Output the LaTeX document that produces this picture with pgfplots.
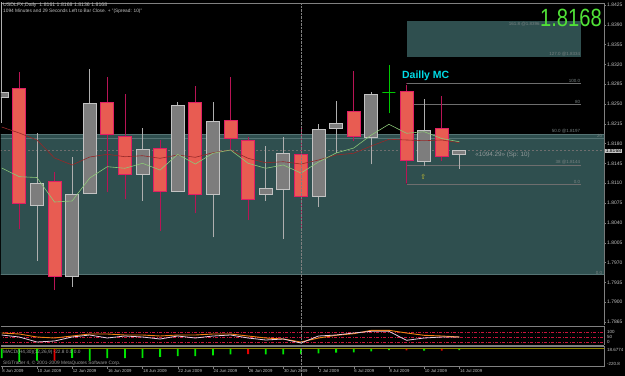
\documentclass[border=0pt]{standalone}
\usepackage{pgfplots}
\pgfplotsset{compat=1.18}
\usepackage{fontspec}
\setmainfont{Liberation Sans}
\newfontfamily\dejavu{DejaVu Sans}

\definecolor{tealz}{RGB}{47,79,79}
\definecolor{tealedge}{RGB}{85,115,115}
\definecolor{redfill}{RGB}{232,92,82}
\definecolor{rededge}{RGB}{225,30,100}
\definecolor{redwick}{RGB}{185,20,85}
\definecolor{greyfill}{RGB}{125,125,125}
\definecolor{greyedge}{RGB}{195,195,195}
\definecolor{greywick}{RGB}{175,175,175}
\definecolor{dojigreen}{RGB}{0,200,0}
\definecolor{maGreen}{RGB}{140,200,120}
\definecolor{maRed}{RGB}{150,40,40}
\definecolor{axisgrey}{RGB}{128,128,128}
\definecolor{txtgrey}{RGB}{195,195,195}
\definecolor{fibgrey}{RGB}{110,110,110}
\definecolor{fibtxt}{RGB}{120,130,130}
\definecolor{limeT}{RGB}{80,225,55}
\definecolor{cyanT}{RGB}{0,220,230}
\definecolor{lvlred}{RGB}{200,20,60}
\definecolor{oscW}{RGB}{235,205,225}
\definecolor{oscO}{RGB}{240,130,20}
\definecolor{macdG}{RGB}{0,230,0}
\definecolor{macdR}{RGB}{230,0,0}
\definecolor{sigOlive}{RGB}{140,130,0}

\pgfplotsset{
  bearwick/.style={draw=redwick, line width=0.8pt},
  bearbody/.style={draw=rededge, fill=redfill, line width=0.8pt},
  bullwick/.style={draw=greywick, line width=0.8pt},
  bullbody/.style={draw=greyedge, fill=greyfill, line width=0.8pt},
  dojiwick/.style={draw=dojigreen, line width=0.8pt},
  dojibody/.style={draw=dojigreen, fill=dojigreen, line width=0.8pt},
  panel/.style={scale only axis, width=603bp, xmin=-0.04, xmax=34.22,
    axis line style={draw=axisgrey, line width=0.6pt}, clip=true},
}
% candle: x position, low, body low, body high, high, kind (prices in pips above 1.7800)
\newcommand\candle[6]{%
  \addplot[#6wick] coordinates {(#1,#2) (#1,#5)};
  \pgfmathsetmacro\xl{#1-0.37}\pgfmathsetmacro\xr{#1+0.37}%
  \addplot[#6body] coordinates {(\xl,#3) (\xr,#3) (\xr,#4) (\xl,#4)} -- cycle;}

\begin{document}
\begin{tikzpicture}
\path[fill=black, use as bounding box] (0,0) rectangle (625bp,-376bp);

% ---------------- main price panel (y = (price - 1.7800) x 10000) ----------------
\begin{axis}[panel, at={(1bp,-3bp)}, anchor=north west, height=322bp,
  ymin=59.6, ymax=628.5,
  axis x line*=top, axis y line*=right,
  xtick=\empty,
  ytick={65,100,135,170,205,240,275,310,345,380,415,450,485,520,555,590,625},
  yticklabels={1.7865,1.7900,1.7935,1.7970,1.8005,1.8040,1.8075,1.8110,1.8145,1.8180,1.8215,1.8250,1.8285,1.8320,1.8355,1.8390,1.8425},
  tick align=outside, major tick length=2bp,
  tick style={draw=axisgrey, line width=0.4pt},
  yticklabel style={font=\fontsize{5}{6}\selectfont, text=txtgrey, inner sep=1bp},
]
% Fibonacci zones
\addplot[fill=tealz, draw=tealedge, line width=0.6pt] coordinates {(-1,148.4) (40,148.4) (40,397.1) (-1,397.1)} -- cycle;
\addplot[fill=tealz, draw=none] coordinates {(23,533.6) (32.9,533.6) (32.9,596.2) (23,596.2)} -- cycle;
\addplot[draw=tealedge, line width=0.6pt] coordinates {(-1,389.5) (40,389.5)};
% fib levels
\addplot[draw=fibgrey, line width=0.5pt] coordinates {(23,486.7) (32.9,486.7)};
\addplot[draw=fibgrey, line width=0.5pt] coordinates {(23,450.1) (32.9,450.1)};
\addplot[draw=fibgrey, line width=0.5pt] coordinates {(23,342.3) (32.9,342.3)};
\addplot[draw=fibgrey, line width=0.5pt] coordinates {(23,308.7) (32.9,308.7)};
\addplot[draw=redwick!70!black, line width=0.5pt, densely dotted] coordinates {(23,486.7) (23,308.7)};
% current price line
\addplot[draw=fibgrey, line width=0.5pt, dash pattern=on 2bp off 2bp] coordinates {(-1,368) (40,368)};

% candles: x, low, body low, body high, high
\candle{0}{416.5}{462.4}{471.3}{650}{bull}
\candle{1}{228.7}{273.9}{477.8}{506.1}{bear}
\candle{2}{172.7}{271.1}{309.9}{398.3}{bull}
\candle{3}{121.4}{146.1}{313.5}{330.4}{bear}
\candle{4}{127.2}{145.6}{290.5}{355.9}{bull}
\candle{5}{292.3}{292.3}{451.3}{511.4}{bull}
\candle{6}{295.1}{395.8}{453.1}{497.2}{bear}
\candle{7}{281.7}{325.8}{393.0}{467.7}{bear}
\candle{8}{279.2}{326.4}{370.0}{407.1}{bull}
\candle{9}{225.7}{295.8}{371.8}{386.5}{bear}
\candle{10}{295.0}{296.3}{447.8}{454.1}{bull}
\candle{11}{256.9}{290.5}{453.1}{481.9}{bear}
\candle{12}{214.5}{290.5}{419.5}{454.1}{bull}
\candle{13}{368.8}{389.5}{421.8}{497.2}{bear}
\candle{14}{245.1}{282.2}{386.5}{391.2}{bear}
\candle{15}{279.2}{291.0}{300.4}{375.9}{bull}
\candle{16}{212.1}{299.3}{362.2}{391.2}{bull}
\candle{17}{228.7}{286.3}{361.2}{410.0}{bear}
\candle{18}{268.6}{286.3}{405.4}{414.7}{bull}
\candle{19}{364.0}{407.1}{416.0}{455.4}{bull}
\candle{20}{385.2}{392.3}{436.5}{508.4}{bear}
\candle{21}{343.5}{391.2}{467.2}{471.8}{bull}
\candle{22}{433.6}{470.0}{470.0}{519.0}{doji}
\candle{23}{309.9}{351.1}{471.8}{483.6}{bear}
\candle{24}{340.5}{348.1}{402.9}{458.4}{bull}
\candle{25}{349.9}{356.9}{407.1}{464.2}{bear}
\candle{26}{336.0}{361.0}{368.0}{368.0}{bull}

% moving averages
\addplot[draw=maRed, line width=0.6pt] coordinates {(0,409.4) (1,398.8) (2,386.5) (3,354.7) (4,342.3) (5,356.4) (6,361.2) (7,356.9) (8,358.7) (9,354.1) (10,360.0) (11,355.9) (12,364.0) (13,368.8) (14,354.1) (15,346.3) (16,348.1) (17,344.0) (18,351.1) (19,360.0) (20,363.0) (21,375.9) (22,387.7) (23,386.5) (24,385.2) (25,386.5) (26,381.7)};
\addplot[draw=maGreen, line width=0.6pt] coordinates {(0,337.0) (1,321.6) (2,320.2) (3,276.9) (4,278.7) (5,319.3) (6,339.3) (7,336.5) (8,345.3) (9,333.4) (10,361.2) (11,344.0) (12,363.0) (13,368.8) (14,345.3) (15,336.5) (16,342.3) (17,328.1) (18,347.6) (19,363.5) (20,372.3) (21,395.3) (22,414.2) (23,398.3) (24,401.1) (25,389.1) (26,383.4)};

% labels
\node[anchor=south east, inner sep=0.5bp, text=fibtxt, font=\fontsize{4.5}{5}\selectfont] at (axis cs:32.9,486.7) {100.0};
\node[anchor=south east, inner sep=0.5bp, text=fibtxt, font=\fontsize{4.5}{5}\selectfont] at (axis cs:32.9,450.1) {80};
\node[anchor=south east, inner sep=0.5bp, text=fibtxt, font=\fontsize{4.5}{5}\selectfont] at (axis cs:32.9,397.1) {50.0 @1.8197};
\node[anchor=south east, inner sep=0.5bp, text=fibtxt, font=\fontsize{4.5}{5}\selectfont] at (axis cs:32.9,342.3) {38 @1.8144};
\node[anchor=south east, inner sep=0.5bp, text=fibtxt, font=\fontsize{4.5}{5}\selectfont] at (axis cs:32.9,308.7) {0.0};
\node[anchor=south east, inner sep=0.5bp, text=fibtxt, font=\fontsize{4.5}{5}\selectfont] at (axis cs:32.9,533.6) {127.0 @1.8334};
\node[anchor=north east, inner sep=0.5bp, text=fibtxt, font=\fontsize{4.5}{5}\selectfont] at (axis cs:30.6,596.2) {161.8 @1.8396};
\node[anchor=north east, inner sep=0.5bp, text=fibtxt, font=\fontsize{4.5}{5}\selectfont] at (axis cs:34.15,397.1) {20};
\node[anchor=south east, inner sep=0.5bp, text=fibtxt, font=\fontsize{4.5}{5}\selectfont] at (axis cs:34.15,148.4) {0.0};
\node[anchor=west, inner sep=0pt, text=cyanT, font=\fontsize{10.5}{11}\selectfont\bfseries] at (axis cs:22.74,500.5) {Dailly MC};
\node[anchor=west, inner sep=0pt, text=fibtxt!80!white, font=\fontsize{6.3}{7}\selectfont] at (axis cs:26.9,360.9) {«1094.29» (Sp: 10)};
\node[inner sep=0pt, text=yellow!75!black, font=\dejavu\fontsize{7}{7}\selectfont] at (axis cs:23.95,320.5) {⇧};
\end{axis}

% ---------------- oscillator panel ----------------
\begin{axis}[panel, at={(1bp,-326bp)}, anchor=north west, height=19bp,
  ymin=-30, ymax=160, axis x line*=box, axis y line*=right,
  xtick=\empty, ytick=\empty]
\addplot[draw=lvlred, line width=0.5pt, dash pattern=on 3bp off 1.5bp on 1bp off 1.5bp] coordinates {(-1,100) (40,100)};
\addplot[draw=lvlred, line width=0.5pt, dash pattern=on 3bp off 1.5bp on 1bp off 1.5bp] coordinates {(-1,50) (40,50)};
\addplot[draw=lvlred, line width=0.5pt, dash pattern=on 3bp off 1.5bp on 1bp off 1.5bp] coordinates {(-1,0) (40,0)};
\addplot[draw=oscO, line width=0.9pt] coordinates {(0,90) (1,80) (2,50) (3,40) (4,60) (5,80) (6,80) (7,70) (8,70) (9,60) (10,70) (11,70) (12,80) (13,80) (14,60) (15,40) (16,30) (17,0) (18,40) (19,67) (20,83) (21,117) (22,117) (23,90) (24,67) (25,60) (26,50)};
\addplot[draw=oscW, line width=0.8pt] coordinates {(0,70) (1,50) (2,0) (3,10) (4,50) (5,70) (6,40) (7,60) (8,50) (9,30) (10,60) (11,40) (12,60) (13,70) (14,40) (15,20) (16,30) (17,-10) (18,60) (19,70) (20,90) (21,107) (22,107) (23,17) (24,40) (25,50) (26,50)};
\end{axis}

% ---------------- MACD panel ----------------
\begin{axis}[panel, at={(1bp,-346bp)}, anchor=north west, height=20.5bp,
  ymin=-220.8, ymax=28, axis x line*=box, axis y line*=right,
  ytick=\empty,
  xtick={0,2,...,26}, xtick pos=bottom,
  xticklabels={8 Jun 2009,10 Jun 2009,12 Jun 2009,16 Jun 2009,18 Jun 2009,22 Jun 2009,24 Jun 2009,26 Jun 2009,30 Jun 2009,2 Jul 2009,6 Jul 2009,8 Jul 2009,10 Jul 2009,14 Jul 2009},
  tick align=outside, major tick length=2bp,
  tick style={draw=axisgrey, line width=0.4pt},
  xticklabel style={anchor=north west, inner sep=0.5bp, font=\fontsize{4.3}{5}\selectfont, text=txtgrey},
]
\addplot[ybar, bar shift=0pt, bar width=1.8bp, fill=macdG, draw=none] coordinates {(0,-120) (1,-165) (2,-150) (4,-115) (5,-150) (6,-120) (7,-120) (8,-115) (9,-105) (10,-95) (11,-95) (12,-85) (13,-75) (15,-75) (16,-75) (17,-70) (18,-60) (19,-53) (20,-49) (21,-36) (22,-21) (24,-29) (26,-23)};
\addplot[ybar, bar shift=0pt, bar width=1.8bp, fill=macdR, draw=none] coordinates {(3,-150) (14,-70) (23,-24) (25,-29)};
\addplot[draw=sigOlive, line width=0.6pt] coordinates {(-1,0) (40,0)};
\end{axis}

% separator (month start)
\draw[axisgrey, densely dotted, line width=0.4pt] (300.9bp,-3bp) -- (300.9bp,-376bp);

% texts
\node[anchor=west, inner sep=0pt, text=txtgrey, font=\fontsize{5.2}{6}\selectfont] at (3bp,-5.5bp) {USDLFX,Daily\ \ 1.8161 1.8168 1.8136 1.8168};
\node[anchor=west, inner sep=0pt, text=txtgrey, font=\fontsize{4.8}{6}\selectfont] at (3bp,-11bp) {1094 Minutes and 29 Seconds Left to Bar Close. + "(Spread: 10)"};
\node[anchor=west, inner sep=0pt, text=limeT, font=\fontsize{25}{25}\selectfont, xscale=0.81] at (540bp,-18.3bp) {1.8168};
\node[anchor=west, inner sep=0.6bp, fill=txtgrey, text=black, font=\fontsize{5}{6}\selectfont] at (605bp,-151bp) {1.8168};
\node[anchor=west, inner sep=0pt, text=txtgrey, font=\fontsize{4.5}{5}\selectfont] at (607bp,-332bp) {100};
\node[anchor=west, inner sep=0pt, text=txtgrey, font=\fontsize{4.5}{5}\selectfont] at (607bp,-337bp) {50};
\node[anchor=west, inner sep=0pt, text=txtgrey, font=\fontsize{4.5}{5}\selectfont] at (607bp,-342bp) {0};
\node[anchor=west, inner sep=0pt, text=txtgrey, font=\fontsize{4.5}{5}\selectfont] at (607bp,-350bp) {18.6774};
\node[anchor=west, inner sep=0pt, text=txtgrey, font=\fontsize{4.5}{5}\selectfont] at (607bp,-364bp) {-220.8};
\node[anchor=west, inner sep=0pt, text=txtgrey!80!black, font=\fontsize{4.8}{6}\selectfont] at (3bp,-352.5bp) {MACD(H4,30)(12,26,9) -22.8 0.0 0.0};
\node[anchor=west, inner sep=0pt, text=txtgrey!80!black, font=\fontsize{4.8}{6}\selectfont] at (3bp,-363bp) {SIGTrader 4, © 2001-2009 MetaQuotes Software Corp.};
\end{tikzpicture}
\end{document}
